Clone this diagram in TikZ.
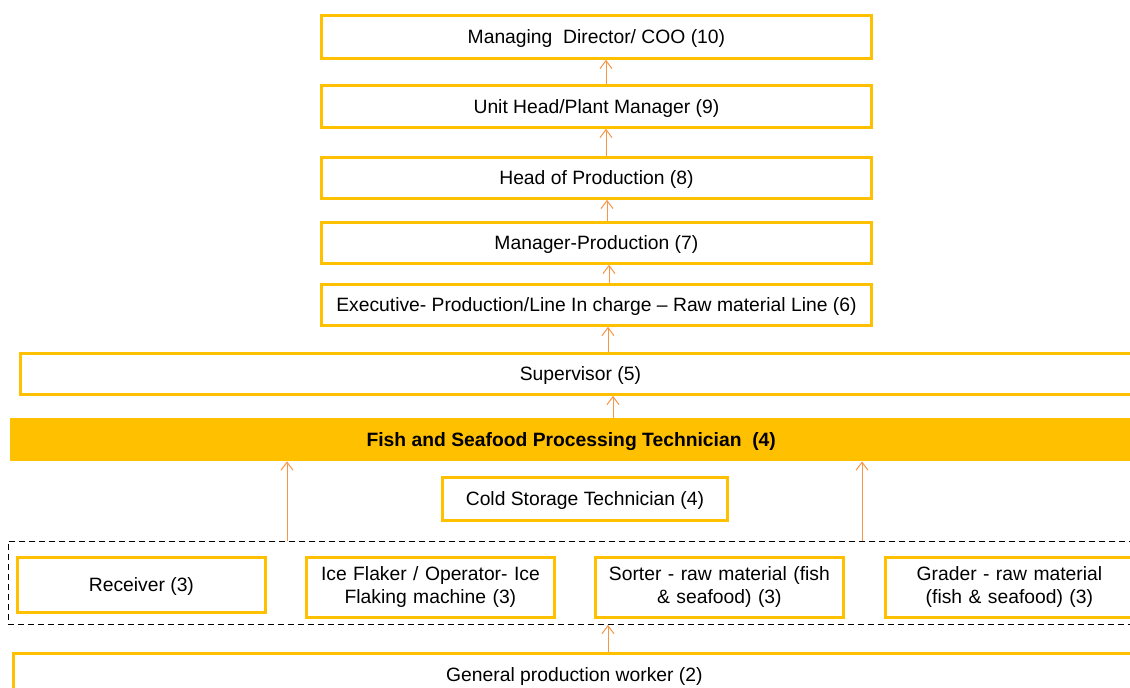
\documentclass[tikz,border=0pt]{standalone}
\usepackage{fontspec}
\setmainfont{Liberation Sans}
\usetikzlibrary{arrows.meta}
\definecolor{gold}{HTML}{FFC000}
\definecolor{arr}{HTML}{F79646}
\tikzset{
  boxbase/.style={draw=gold, line width=2.8pt, fill=white, rectangle, inner sep=0pt, align=center, font=\fontsize{19.3}{23}\selectfont},
  box/.style={boxbase, text depth=-1.5pt},
  box2/.style={boxbase, yshift=-1.5pt},
  band/.style={fill=gold, draw=none, rectangle, inner sep=0pt, align=center, text depth=-1.5pt, font=\fontsize{19.3}{23}\selectfont\bfseries},
  up/.style={draw=arr, line width=1pt, -{Straight Barb[length=8pt,width=12pt]}},
  grp/.style={draw=black, line width=0.9pt, dash pattern=on 6pt off 4pt}
}
\begin{document}
\begin{tikzpicture}[x=1pt,y=-1pt]
\useasboundingbox (0,0) rectangle (1130,688);
\clip (0,0) rectangle (1130,688);
% top chain
\node[box, minimum width=550pt, minimum height=43pt, anchor=north west] (md) at (320,14) {Managing\ \ Director/ COO (10)};
\node[box, minimum width=550pt, minimum height=42pt, anchor=north west] (uh) at (320,84) {Unit Head/Plant Manager (9)};
\node[box, minimum width=550pt, minimum height=41pt, anchor=north west] (hp) at (320,156) {Head of Production (8)};
\node[box, minimum width=550pt, minimum height=41pt, anchor=north west] (mp) at (320,221) {Manager-Production (7)};
\node[box, minimum width=550pt, minimum height=41pt, anchor=north west] (ex) at (320,283) {Executive- Production/Line In charge -- Raw material Line (6)};
\node[box, minimum width=1120pt, minimum height=41pt, anchor=north west] (sup) at (19,352) {Supervisor (5)};
\node[band, minimum width=1122pt, minimum height=43pt, anchor=north west] (fish) at (10,418) {Fish and Seafood Processing Technician\ \ (4)};
\node[box, minimum width=285pt, minimum height=43pt, anchor=north west] (cold) at (441,476) {Cold Storage Technician (4)};
% dashed group
\node[grp, rectangle, minimum width=1132pt, minimum height=83pt, anchor=north west, inner sep=0pt] (grp) at (8,541) {};
\node[box, minimum width=248pt, minimum height=55pt, anchor=north west] (rec) at (16,556) {Receiver (3)};
\node[boxbase, minimum width=248pt, minimum height=60pt, anchor=north west, text width=244pt] (ice) at (305,556) {Ice Flaker / Operator- Ice\\ Flaking machine (3)};
\node[boxbase, minimum width=248pt, minimum height=60pt, anchor=north west, text width=244pt] (sor) at (594,556) {Sorter - raw material (fish\\ \& seafood) (3)};
\node[boxbase, minimum width=248pt, minimum height=60pt, anchor=north west, text width=244pt] (gra) at (884,556) {Grader - raw material\\ (fish \& seafood) (3)};
\node[box, minimum width=1122pt, minimum height=42pt, anchor=north west] (gen) at (12,652) {General production worker (2)};
% connectors
\draw[up] (uh.north -| 606,0) -- (md.south -| 606,0);
\draw[up] (hp.north -| 606,0) -- (uh.south -| 606,0);
\draw[up] (mp.north -| 607,0) -- (hp.south -| 607,0);
\draw[up] (ex.north -| 609,0) -- (mp.south -| 609,0);
\draw[up] (sup.north -| 608,0) -- (ex.south -| 608,0);
\draw[up] (fish.north -| 613,0) -- (sup.south -| 613,0);
\draw[up] (grp.north -| 287,0) -- (fish.south -| 287,0);
\draw[up] (grp.north -| 862,0) -- (fish.south -| 862,0);
\draw[up] (gen.north -| 608,0) -- (grp.south -| 608,0);
\end{tikzpicture}
\end{document}
